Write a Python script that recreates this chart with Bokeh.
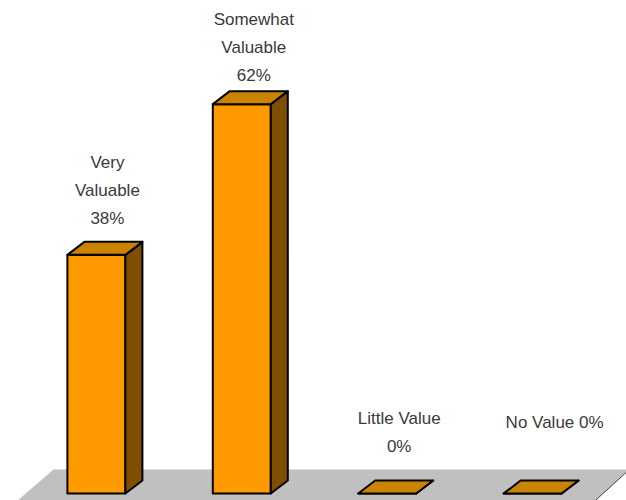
from bokeh.plotting import figure
from bokeh.models import ColumnDataSource, Range1d
from bokeh.core.properties import value
from bokeh.embed import file_html
from bokeh.resources import INLINE

# ---- data ----
categories = ["Very Valuable", "Somewhat Valuable", "Little Value", "No Value"]
percents = [38, 62, 0, 0]
label_lines = [["Very", "Valuable", "38%"],
               ["Somewhat", "Valuable", "62%"],
               ["Little Value", "0%"],
               ["No Value 0%"]]

# ---- layout / style constants ----
W, H = 626, 500
PX_PER_X = 145.4          # pixels per category step
PX_PER_PCT = 6.28         # pixels per percent
X0 = -95.9 / PX_PER_X
Y0 = -7.0 / PX_PER_PCT
BAR_W = 58 / PX_PER_X
DX = 17 / PX_PER_X        # 3-D depth offset
DY = 13 / PX_PER_PCT
FRONT = "#FF9900"
TOP = "#CC8400"
SIDE = "#7F4F00"
FLOOR = "#C0C0C0"
TEXT_COLOR = "#3a3a3a"
LINE_GAP = 28             # px between label lines
LABEL_BOTTOM_PX = [36, 29, 47, 71]
LABEL_SHIFT_PX = [11, 12, 12, 22]

p = figure(width=W, height=H, output_backend="svg", toolbar_location=None,
           x_range=Range1d(X0, X0 + W / PX_PER_X),
           y_range=Range1d(Y0, Y0 + H / PX_PER_PCT),
           min_border=0, outline_line_color=None)
p.axis.visible = False
p.grid.visible = False
p.background_fill_color = "white"
p.border_fill_color = "white"

n = len(categories)
# floor
fb = 24 / PX_PER_PCT            # back edge height of floor
ff = -20 / PX_PER_PCT           # front (below frame)
left_back = 0 - 0.295
right_back = (n - 1) + 0.666
slope_l = 1.16 * (PX_PER_PCT / PX_PER_X)
slope_r = 1.10 * (PX_PER_PCT / PX_PER_X)
floor_x = [left_back, right_back, right_back - (fb - ff) * slope_r, left_back - (fb - ff) * slope_l]
floor_y = [fb, fb, ff, ff]
p.patch(floor_x, floor_y, fill_color=FLOOR, line_color=None)
p.line([right_back, right_back - (fb - ff) * slope_r], [fb, ff], line_color="#404040", line_width=1)

fx, fy, sx, sy, tx, ty = [], [], [], [], [], []
for i, v in enumerate(percents):
    L, R = i - BAR_W / 2, i + BAR_W / 2
    fx.append([L, R, R, L]); fy.append([0, 0, v, v])
    sx.append([R, R + DX, R + DX, R]); sy.append([0, DY, v + DY, v])
    tx.append([L, R, R + DX, L + DX]); ty.append([v, v, v + DY, v + DY])

kw = dict(line_color="black", line_width=2, line_join="round")
p.patches(fx, fy, fill_color=FRONT, **kw)
p.patches(sx, sy, fill_color=SIDE, **kw)
p.patches(tx, ty, fill_color=TOP, **kw)

# labels
lx, ly, lt = [], [], []
for i, (v, lines) in enumerate(zip(percents, label_lines)):
    m = len(lines)
    for k, t in enumerate(lines):
        px_up = LABEL_BOTTOM_PX[i] + (m - 1 - k) * LINE_GAP
        lx.append(i + LABEL_SHIFT_PX[i] / PX_PER_X)
        ly.append(v + px_up / PX_PER_PCT)
        lt.append(t)
src = ColumnDataSource(dict(x=lx, y=ly, text=lt))
p.text(x="x", y="y", text="text", source=src, text_align="center",
       text_baseline="middle", text_font=value("Liberation Sans"),
       text_font_size="17px", text_color=TEXT_COLOR)

open("out.html", "w").write(file_html(p, INLINE))
